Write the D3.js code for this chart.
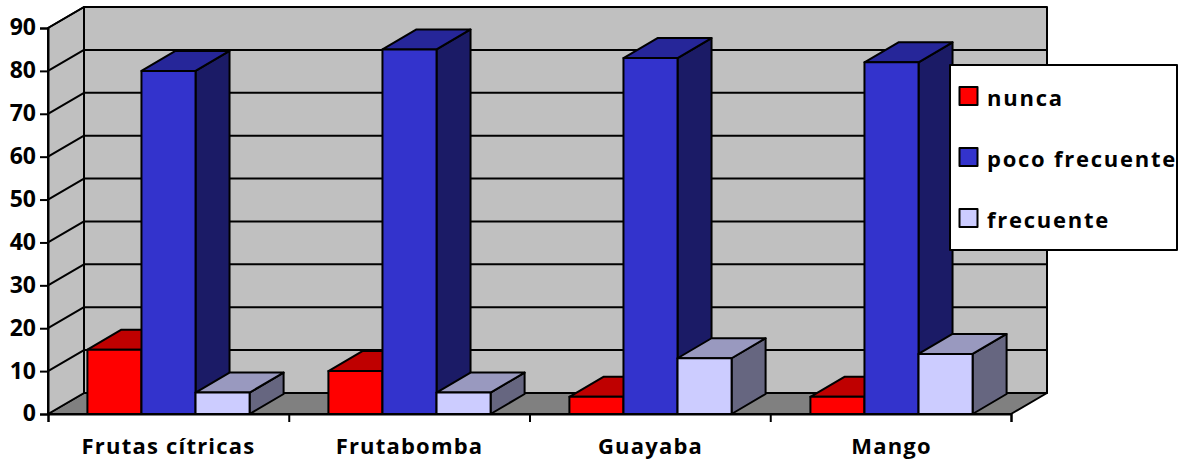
<!DOCTYPE html>
<html lang="es">
<head>
<meta charset="utf-8">
<title>Consumo de frutas</title>
<script src="https://cdn.jsdelivr.net/npm/d3@7"></script>
<style>
  html, body { margin: 0; padding: 0; background: #fff; }
  svg { display: block; }
  text { font-family: "Open Sans", "Noto Sans", sans-serif; font-weight: 700; fill: #000; }
</style>
</head>
<body>
<svg id="chart" width="1192" height="466"></svg>
<script>
// Data
const categories = ["Frutas cítricas", "Frutabomba", "Guayaba", "Mango"];
const seriesNames = ["nunca", "poco frecuente", "frecuente"];
const nunca = [15, 10, 4, 4];
const pocoFrecuente = [80, 85, 83, 82];
const frecuente = [5, 5, 13, 14];
const valueTicks = [0, 10, 20, 30, 40, 50, 60, 70, 80, 90];

// One colour triple per series: front, top and side faces of the prism
const faceColours = [
  { front: "#ff0000", top: "#bf0000", side: "#800000" },
  { front: "#3333cc", top: "#262699", side: "#1b1b66" },
  { front: "#ccccff", top: "#9999bf", side: "#666680" }
];
const seriesValues = [nunca, pocoFrecuente, frecuente];

// Layout of the oblique projection
const plot = { left: 48, right: 1011, bottom: 414, top: 28 };
const depth = { x: 36, y: -21 };
const barDepth = { x: 34, y: -20 };
const lineWidth = 2;

const svg = d3.select("#chart");
const y = d3.scaleLinear().domain([0, 90]).range([plot.bottom, plot.top]);
const x = d3.scaleBand().domain(categories).range([plot.left, plot.right + 1]);
const groupWidth = x.bandwidth() * 0.673;
const xSeries = d3.scaleBand().domain(seriesNames).range([0, groupWidth]);
const groupStart = c => x(c) + (x.bandwidth() - groupWidth) / 2;

const poly = pts => pts.map(p => p.join(",")).join(" ");
const outline = g => g.attr("stroke", "#000").attr("stroke-width", lineWidth).attr("stroke-linejoin", "round");

// Floor, back wall and side wall
const walls = svg.append("g").call(outline);
walls.append("polygon").attr("fill", "#808080").attr("points", poly([
  [plot.left, plot.bottom], [plot.right, plot.bottom],
  [plot.right + depth.x, plot.bottom + depth.y], [plot.left + depth.x, plot.bottom + depth.y]
]));
walls.append("polygon").attr("fill", "#c0c0c0").attr("points", poly([
  [plot.left, plot.bottom], [plot.left + depth.x, plot.bottom + depth.y],
  [plot.left + depth.x, plot.top + depth.y], [plot.left, plot.top]
]));
walls.append("polygon").attr("fill", "#c0c0c0").attr("points", poly([
  [plot.left + depth.x, plot.bottom + depth.y], [plot.right + depth.x, plot.bottom + depth.y],
  [plot.right + depth.x, plot.top + depth.y], [plot.left + depth.x, plot.top + depth.y]
]));

// Gridlines run along the side wall and across the back wall
const grid = svg.append("g").attr("fill", "none").call(outline);
grid.selectAll("polyline").data(valueTicks.slice(1)).join("polyline")
  .attr("points", d => poly([
    [plot.left, y(d)],
    [plot.left + depth.x, y(d) + depth.y],
    [plot.right + depth.x, y(d) + depth.y]
  ]));

// Prisms, drawn series by series inside each category
const groups = svg.append("g").selectAll("g").data(categories).join("g");
groups.each(function (cat, ci) {
  const g = d3.select(this);
  seriesNames.forEach((name, si) => {
    const x0 = groupStart(cat) + xSeries(name);
    const x1 = x0 + xSeries.bandwidth();
    const yTop = y(seriesValues[si][ci]);
    const c = faceColours[si];
    const bar = g.append("g").call(outline);
    bar.append("polygon").attr("fill", c.side).attr("points", poly([
      [x1, plot.bottom], [x1 + barDepth.x, plot.bottom + barDepth.y],
      [x1 + barDepth.x, yTop + barDepth.y], [x1, yTop]
    ]));
    bar.append("polygon").attr("fill", c.top).attr("points", poly([
      [x0, yTop], [x1, yTop], [x1 + barDepth.x, yTop + barDepth.y], [x0 + barDepth.x, yTop + barDepth.y]
    ]));
    bar.append("rect").attr("fill", c.front)
      .attr("x", x0).attr("y", yTop)
      .attr("width", x1 - x0).attr("height", plot.bottom - yTop);
  });
});

// Value axis
const yAxis = svg.append("g").attr("transform", `translate(${plot.left},0)`)
  .call(d3.axisLeft(y).tickValues(valueTicks).tickSize(8).tickPadding(4));
yAxis.selectAll("text").style("font-size", "23px").attr("dy", "0.3em");
yAxis.selectAll("line, path").attr("stroke", "#000").attr("stroke-width", lineWidth);

// Category axis: ticks on band boundaries, labels on band centres
const tickScale = d3.scaleLinear().domain([0, categories.length]).range([plot.left, plot.right]);
const xTicks = svg.append("g").attr("transform", `translate(0,${plot.bottom})`)
  .call(d3.axisBottom(tickScale).ticks(categories.length).tickFormat("").tickSize(8));
xTicks.selectAll("line, path").attr("stroke", "#000").attr("stroke-width", lineWidth);

const xLabels = svg.append("g").attr("transform", `translate(0,${plot.bottom})`)
  .call(d3.axisBottom(x).tickSize(0).tickPadding(24));
xLabels.select("path").remove();
xLabels.selectAll("text").style("font-size", "22px").style("letter-spacing", "1.2px");

// Legend
const legendBox = { x: 950, y: 65, w: 227, h: 185 };
const legend = svg.append("g");
legend.append("rect").attr("x", legendBox.x).attr("y", legendBox.y)
  .attr("width", legendBox.w).attr("height", legendBox.h)
  .attr("fill", "#fff").call(outline);
const legendRow = d3.scalePoint().domain(seriesNames).range([96, 218]);
const rows = legend.selectAll("g").data(seriesNames).join("g")
  .attr("transform", d => `translate(0,${legendRow(d)})`);
rows.append("rect").attr("x", 959.5).attr("y", -9).attr("width", 18).attr("height", 18)
  .attr("fill", (d, i) => faceColours[i].front).call(outline);
rows.append("text").attr("x", 987).attr("y", 10)
  .style("font-size", "22px").style("letter-spacing", "1.75px").text(d => d);
</script>
</body>
</html>
